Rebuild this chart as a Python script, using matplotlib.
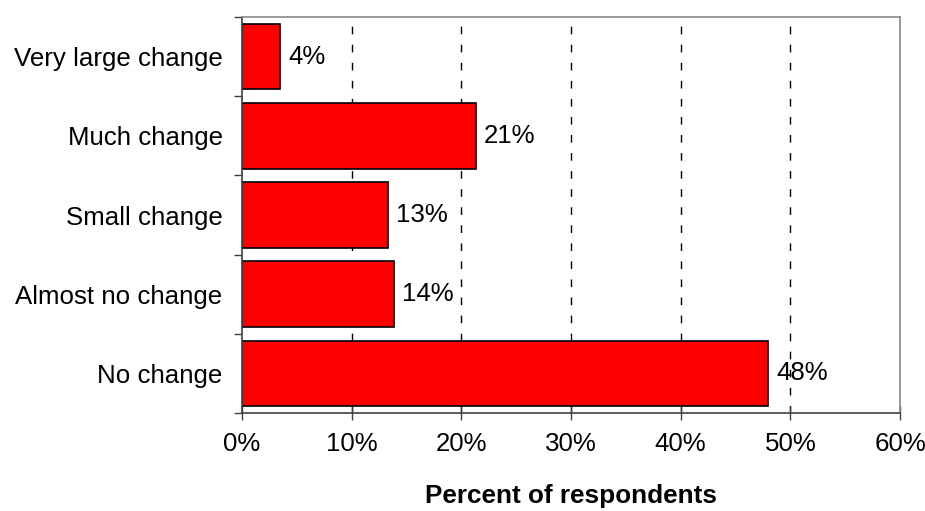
import matplotlib.pyplot as plt
import numpy as np

categories = ["No change", "Almost no change", "Small change", "Much change", "Very large change"]
values = [48.0, 13.9, 13.3, 21.3, 3.5]
value_labels = ["48%", "14%", "13%", "21%", "4%"]
x_ticks = [0, 10, 20, 30, 40, 50, 60]
x_tick_labels = ["0%", "10%", "20%", "30%", "40%", "50%", "60%"]

plt.rcParams['font.family'] = ['Liberation Sans', 'DejaVu Sans']

fig = plt.figure(figsize=(9.25, 5.11), dpi=100)
ax = fig.add_axes([0.2616, 0.1918, 0.973 - 0.2616, 0.9667 - 0.1918])

pos = np.arange(len(categories))

# dashed grid lines, drawn under the bars
for x in x_ticks[1:-1]:
    ax.axvline(x, color='black', linewidth=1, linestyle=(0, (5.5, 7.5)), zorder=1)

ax.barh(pos, values, height=0.83, color='#ff0000', edgecolor='black', linewidth=1.2, zorder=2)

for p, v, lab in zip(pos, values, value_labels):
    ax.text(v + 0.7, p, lab, va='center', ha='left', fontsize=18.6, zorder=3)

ax.set_xlim(0, 60)
ax.set_ylim(-0.5, len(categories) - 0.5)

ax.set_xticks(x_ticks)
ax.set_xticklabels(x_tick_labels, fontsize=18.6)
ax.set_yticks(pos)
ax.set_yticklabels(categories, fontsize=18.6)
ax.set_yticks(np.arange(-0.5, len(categories), 1), minor=True)

ax.tick_params(axis='y', which='major', length=0, pad=14)
ax.tick_params(axis='y', which='minor', length=6, width=1, color='#404040', direction='out')
ax.tick_params(axis='x', which='major', length=10, width=1, color='#404040', direction='inout', pad=9)

for side in ['left', 'bottom']:
    ax.spines[side].set_color('#404040')
    ax.spines[side].set_linewidth(1.2)
for side in ['top', 'right']:
    ax.spines[side].set_color('#888888')
    ax.spines[side].set_linewidth(1.2)

ax.set_xlabel('Percent of respondents', fontsize=18.8, fontweight='bold', labelpad=20)

fig.savefig('out.png', dpi=100)
